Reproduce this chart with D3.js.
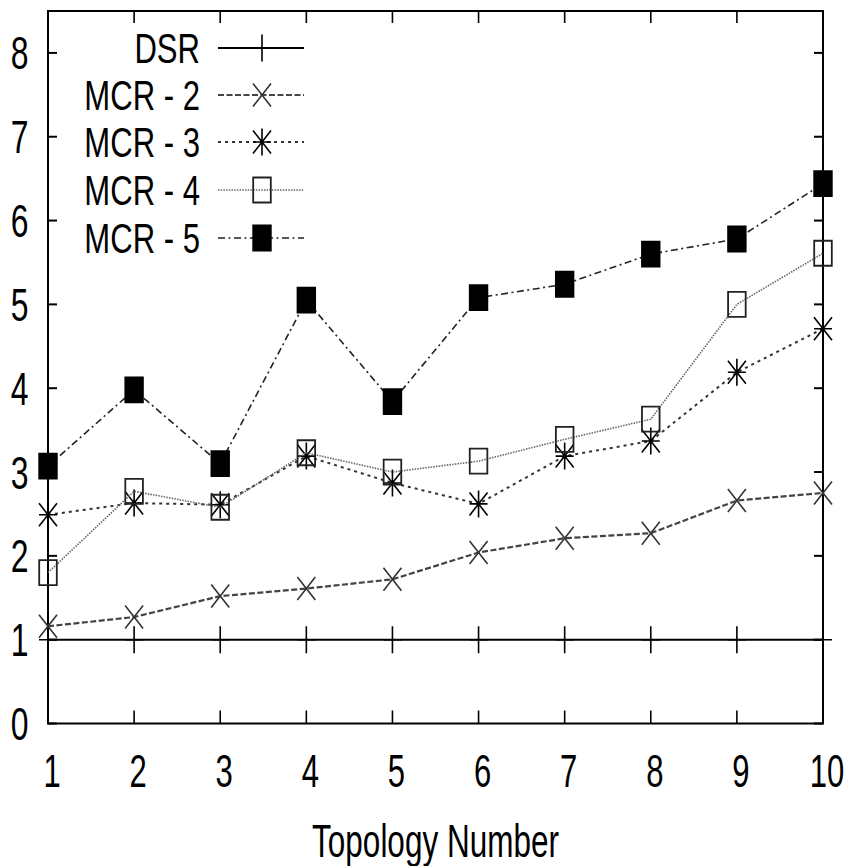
<!DOCTYPE html>
<html>
<head>
<meta charset="utf-8">
<script src="https://cdn.jsdelivr.net/npm/d3@7"></script>
<style>
  html, body { margin: 0; padding: 0; background: #fff; }
  svg { display: block; }
</style>
</head>
<body>
<svg id="chart" width="847" height="866"></svg>
<script>
// Topology numbers on the x axis
const topologies = [1, 2, 3, 4, 5, 6, 7, 8, 9, 10];

// Series values per topology
const dsr  = [1, 1, 1, 1, 1, 1, 1, 1, 1, 1];
const mcr2 = [1.16, 1.27, 1.52, 1.61, 1.72, 2.04, 2.21, 2.27, 2.66, 2.75];
const mcr3 = [2.49, 2.63, 2.61, 3.19, 2.87, 2.62, 3.19, 3.37, 4.19, 4.71];
const mcr4 = [1.80, 2.77, 2.58, 3.23, 3.00, 3.13, 3.39, 3.63, 5.00, 5.61];
const mcr5 = [3.07, 3.98, 3.10, 5.05, 3.84, 5.08, 5.24, 5.60, 5.78, 6.44];

const seriesNames = ["DSR", "MCR - 2", "MCR - 3", "MCR - 4", "MCR - 5"];
const yTicks = [0, 1, 2, 3, 4, 5, 6, 7, 8];
const xTicks = topologies;
const xTitle = "Topology Number";

const svg = d3.select("#chart");
const plotLeft = 48, plotRight = 823, plotTop = 11, plotBottom = 723.5;

const x = d3.scaleLinear().domain([1, 10]).range([plotLeft, plotRight]);
const y = d3.scaleLinear().domain([0, 8.5]).range([plotBottom, plotTop]);

const FONT = "'Liberation Sans', Arial, Helvetica, sans-serif";

// condensed text helper: glyphs are narrowed horizontally
function label(g, tx, ty, str, size, anchor, sx) {
  return g.append("text")
    .attr("transform", `translate(${tx},${ty}) scale(${sx},1)`)
    .attr("text-anchor", anchor)
    .attr("font-family", FONT)
    .attr("font-size", size)
    .attr("fill", "#000")
    .text(str);
}

// series styling
const styles = [
  { data: dsr,  marker: "plus",     stroke: "#000", dash: null,          width: 2,   mstroke: "#000" },
  { data: mcr2, marker: "cross",    stroke: "#444", dash: "6,2.5",       width: 2.2, mstroke: "#333" },
  { data: mcr3, marker: "asterisk", stroke: "#333", dash: "3,4",         width: 2,   mstroke: "#000" },
  { data: mcr4, marker: "square",   stroke: "#666", dash: "1.5,1.2",     width: 1.6, mstroke: "#222" },
  { data: mcr5, marker: "filled",   stroke: "#222", dash: "7,3.5,2,3.5", width: 1.6, mstroke: "#000" }
];

function markerPath(type, cx, cy) {
  const p = d3.path();
  if (type === "plus") {
    p.moveTo(cx - 9, cy); p.lineTo(cx + 9, cy);
    p.moveTo(cx, cy - 13.5); p.lineTo(cx, cy + 13.5);
  } else if (type === "cross") {
    p.moveTo(cx - 9, cy - 11.5); p.lineTo(cx + 9, cy + 11.5);
    p.moveTo(cx - 9, cy + 11.5); p.lineTo(cx + 9, cy - 11.5);
  } else if (type === "asterisk") {
    p.moveTo(cx - 9, cy - 11.5); p.lineTo(cx + 9, cy + 11.5);
    p.moveTo(cx - 9, cy + 11.5); p.lineTo(cx + 9, cy - 11.5);
    p.moveTo(cx - 9, cy); p.lineTo(cx + 9, cy);
    p.moveTo(cx, cy - 13.5); p.lineTo(cx, cy + 13.5);
  } else {
    p.rect(cx - 8.8, cy - 12.5, 17.6, 25);
  }
  return p.toString();
}

function drawMarker(g, s, cx, cy) {
  const filled = s.marker === "filled";
  g.append("path")
    .attr("d", markerPath(s.marker, cx, cy))
    .attr("fill", filled ? "#000" : "none")
    .attr("stroke", s.mstroke)
    .attr("stroke-width", s.marker === "square" || filled ? 1.8 : 1.6);
}

// frame and ticks
const axes = svg.append("g");
axes.append("rect")
  .attr("x", plotLeft).attr("y", plotTop)
  .attr("width", plotRight - plotLeft).attr("height", plotBottom - plotTop)
  .attr("fill", "none").attr("stroke", "#000").attr("stroke-width", 2);

yTicks.forEach(v => {
  const yy = y(v);
  axes.append("line").attr("x1", plotLeft).attr("x2", plotLeft + 9).attr("y1", yy).attr("y2", yy)
    .attr("stroke", "#000").attr("stroke-width", 2);
  axes.append("line").attr("x1", plotRight - 9).attr("x2", plotRight).attr("y1", yy).attr("y2", yy)
    .attr("stroke", "#000").attr("stroke-width", 2);
  label(axes, 28.5, yy + 16.5, String(v), 47, "end", 0.68);
});

xTicks.forEach(v => {
  const xx = x(v);
  axes.append("line").attr("x1", xx).attr("x2", xx).attr("y1", plotBottom).attr("y2", plotBottom - 13)
    .attr("stroke", "#000").attr("stroke-width", 1.6);
  axes.append("line").attr("x1", xx).attr("x2", xx).attr("y1", plotTop).attr("y2", plotTop + 12)
    .attr("stroke", "#000").attr("stroke-width", 1.6);
  label(axes, xx + 4, 787, String(v), 47, "middle", 0.66);
});

label(axes, (plotLeft + plotRight) / 2, 857, xTitle, 46, "middle", 0.685);

// series lines and points
const plot = svg.append("g");
const line = d3.line().x((d, i) => x(topologies[i])).y(d => y(d));

styles.forEach(s => {
  plot.append("path")
    .datum(s.data)
    .attr("d", line)
    .attr("fill", "none")
    .attr("stroke", s.stroke)
    .attr("stroke-width", s.width)
    .attr("stroke-dasharray", s.dash);
  s.data.forEach((v, i) => drawMarker(plot, s, x(topologies[i]), y(v)));
});

// legend
const legend = svg.append("g");
const rowY = [48, 95, 142, 190, 238];
styles.forEach((s, i) => {
  const ly = rowY[i];
  label(legend, 200, ly + 15, seriesNames[i], 42, "end", 0.74);
  legend.append("line")
    .attr("x1", 218).attr("x2", 304).attr("y1", ly).attr("y2", ly)
    .attr("stroke", s.stroke)
    .attr("stroke-width", s.width)
    .attr("stroke-dasharray", s.dash);
  drawMarker(legend, s, 262, ly);
});
</script>
</body>
</html>
